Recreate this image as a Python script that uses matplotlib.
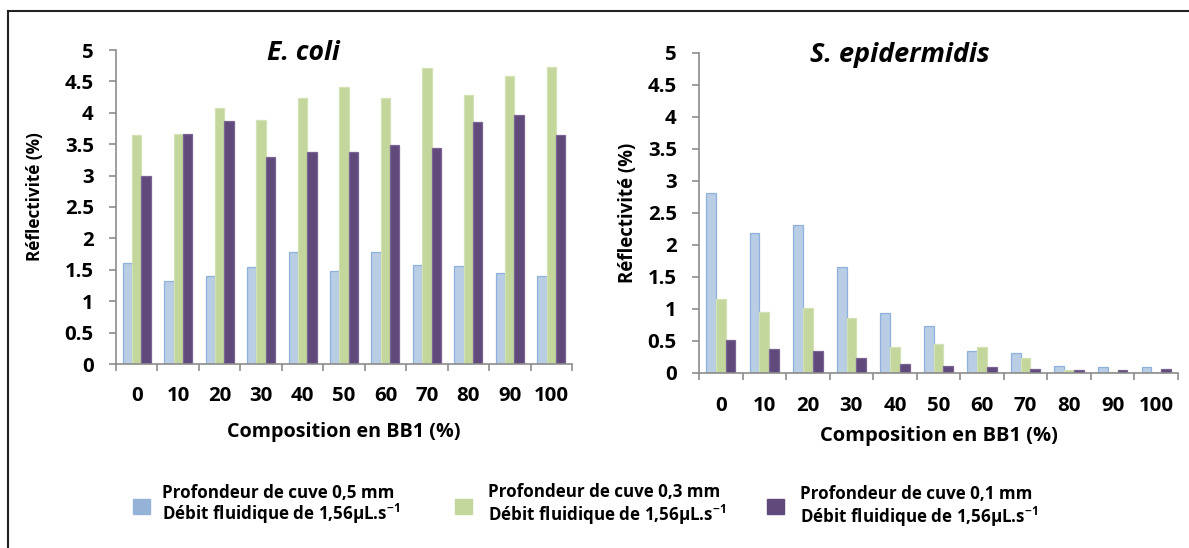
import matplotlib
matplotlib.use("Agg")
import matplotlib.pyplot as plt
from matplotlib.font_manager import FontProperties
import numpy as np

FAM = ['Open Sans', 'DejaVu Sans']
plt.rcParams['font.family'] = FAM
plt.rcParams['font.weight'] = 'bold'
plt.rcParams['mathtext.fontset'] = 'custom'
plt.rcParams['mathtext.bf'] = 'Open Sans:bold'
plt.rcParams['mathtext.rm'] = 'Open Sans:bold'
plt.rcParams['mathtext.default'] = 'bf'

# données
compositions = ["0", "10", "20", "30", "40", "50", "60", "70", "80", "90", "100"]
yticks = [0, 0.5, 1, 1.5, 2, 2.5, 3, 3.5, 4, 4.5, 5]
ytick_labels = ["0", "0.5", "1", "1.5", "2", "2.5", "3", "3.5", "4", "4.5", "5"]

ecoli_05 = [1.61, 1.32, 1.40, 1.54, 1.79, 1.48, 1.78, 1.58, 1.56, 1.45, 1.40]
ecoli_03 = [3.65, 3.67, 4.08, 3.89, 4.24, 4.41, 4.24, 4.71, 4.29, 4.59, 4.73]
ecoli_01 = [2.99, 3.67, 3.87, 3.29, 3.37, 3.38, 3.48, 3.44, 3.85, 3.97, 3.65]

sepi_05 = [2.81, 2.18, 2.32, 1.65, 0.94, 0.74, 0.35, 0.32, 0.11, 0.09, 0.09]
sepi_03 = [1.16, 0.96, 1.02, 0.86, 0.40, 0.45, 0.41, 0.24, 0.04, 0.02, 0.02]
sepi_01 = [0.52, 0.38, 0.34, 0.23, 0.14, 0.11, 0.10, 0.06, 0.05, 0.05, 0.06]

legend_line1 = ["Profondeur de cuve 0,5 mm", "Profondeur de cuve 0,3 mm", "Profondeur de cuve 0,1 mm"]
legend_line2 = r"Débit fluidique de 1,56µL.s$^{-1}$"

fill = ["#B9CDE5", "#C3D69B", "#604A7B"]
edge = ["#8EB0DC", "#D3E2B4", "#7A6494"]
legend_col = ["#95B3D7", "#C3D69B", "#604A7B"]
spine_col = "#8C8C8C"

W, H = 1189, 548
fig = plt.figure(figsize=(W / 100, H / 100), dpi=100)
fig.patch.set_facecolor("white")
renderer = fig.canvas.get_renderer()


def fit(s, target_px, style='normal'):
    # taille de police pour que le texte fasse target_px de large
    fp = FontProperties(family=FAM, weight='bold', style=style, size=10)
    w, h, d = renderer.get_text_width_height_descent(s, fp, ismath=False)
    return 10 * target_px / w


TICK_FS = fit("4.5", 29)
LEG_FS = fit(legend_line1[0], 232)


def px_axes(x0, y0, x1, y1):
    return fig.add_axes([x0 / W, 1 - y1 / H, (x1 - x0) / W, (y1 - y0) / H])


def draw(ax, series, title, title_c, title_w, ylab_c, ylab_w, xlab_y, xlab_w, xtick_y):
    x0, y0, x1, y1 = ax.bbox_px
    x = np.arange(len(compositions))
    w = 0.225
    for i, s in enumerate(series):
        ax.bar(x + (i - 1) * w, s, w, color=fill[i], edgecolor=edge[i], linewidth=0.9)
    ax.set_xlim(-0.5, len(compositions) - 0.5)
    ax.set_ylim(0, 5)
    ax.set_yticks(yticks)
    ax.set_yticklabels(ytick_labels, fontsize=TICK_FS, fontweight='bold')
    ax.set_xticks(x)
    ax.set_xticklabels(compositions, fontsize=TICK_FS, fontweight='bold')
    ax.tick_params(axis='x', which='major', length=0, pad=(xtick_y - y1 - 10) * 0.72)
    ax.set_xticks(np.arange(-0.5, len(compositions), 1), minor=True)
    ax.tick_params(axis='x', which='minor', length=5, color=spine_col, width=1.2)
    ax.tick_params(axis='y', length=5, color=spine_col, width=1.2, pad=11)
    for sp in ["top", "right"]:
        ax.spines[sp].set_visible(False)
    for sp in ["left", "bottom"]:
        ax.spines[sp].set_color(spine_col)
        ax.spines[sp].set_linewidth(1.2)

    ylab = "Réflectivité (%)"
    ax.set_ylabel(ylab, fontsize=fit(ylab, ylab_w), fontweight='bold')
    ax.yaxis.set_label_coords((ylab_c[0] - x0) / (x1 - x0), (y1 - ylab_c[1]) / (y1 - y0))
    ax.yaxis.label.set_va('center')

    xlab = "Composition en BB1 (%)"
    ax.set_xlabel(xlab, fontsize=fit(xlab, xlab_w), fontweight='bold')
    ax.xaxis.set_label_coords(0.5, (y1 - xlab_y) / (y1 - y0))
    ax.xaxis.label.set_va('center')

    ax.text((title_c[0] - x0) / (x1 - x0), (y1 - title_c[1]) / (y1 - y0), title,
            transform=ax.transAxes, ha='center', va='center',
            fontsize=fit(title, title_w, 'italic'), fontweight='bold', fontstyle='italic')


ax1 = px_axes(116, 50, 572, 364)
ax1.bbox_px = (116, 50, 572, 364)
draw(ax1, [ecoli_05, ecoli_03, ecoli_01], "E. coli", (303, 53), 73,
     (35, 197), 129, 432, 234, 396)

ax2 = px_axes(699, 53, 1178, 373)
ax2.bbox_px = (699, 53, 1178, 373)
draw(ax2, [sepi_05, sepi_03, sepi_01], "S. epidermidis", (900, 55), 180,
     (628, 213), 140, 436, 238, 406)

# cadre
fig.add_artist(plt.Line2D([8 / W, 8 / W], [0, 1 - 11 / H], transform=fig.transFigure, color="#222222", lw=1.5))
fig.add_artist(plt.Line2D([8 / W, 1], [1 - 11 / H, 1 - 11 / H], transform=fig.transFigure, color="#222222", lw=1.5))

# légende
marker_x = [133, 455, 767]
text_x = [162, 488, 800]
text_y1 = [493, 492, 494]
text_y2 = [514, 515, 517]
for i in range(3):
    fig.patches.append(plt.Rectangle((marker_x[i] / W, 1 - 514 / H), 17 / W, 15 / H,
                                     transform=fig.transFigure, color=legend_col[i]))
    fig.text(text_x[i] / W, 1 - text_y1[i] / H, legend_line1[i], fontsize=LEG_FS, fontweight='bold', va='center')
    fig.text(text_x[i] / W, 1 - text_y2[i] / H, legend_line2, fontsize=LEG_FS, fontweight='bold', va='center')

fig.savefig("out.png", dpi=100)
